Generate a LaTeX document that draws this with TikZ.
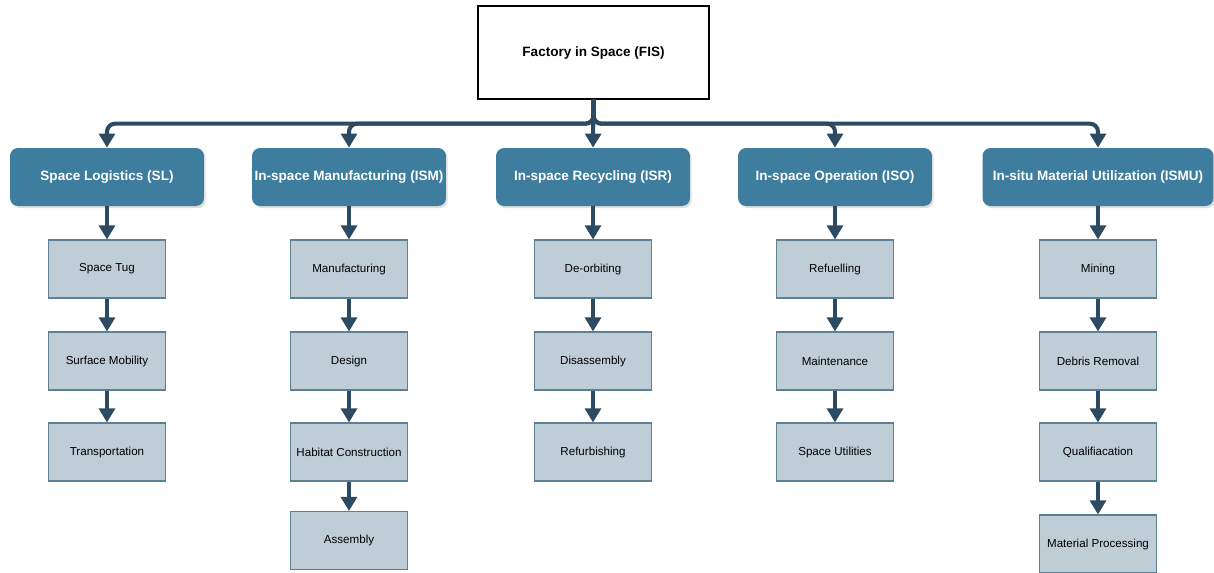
\documentclass[tikz,border=0pt]{standalone}
\usepackage{fontspec}
\setmainfont{Liberation Sans}
\usepackage{tikz}
\usetikzlibrary{shapes,arrows.meta,positioning,shadows}

\definecolor{catblue}{HTML}{3F7D9F}
\definecolor{taskfill}{HTML}{BFCDD6}
\definecolor{taskline}{HTML}{5F7F94}
\definecolor{linkblue}{HTML}{2C4B63}

\tikzset{
  root/.style={draw=black, line width=0.8pt, fill=white, minimum width=4.62cm, minimum height=1.86cm,
    font=\fontsize{7.7}{9}\selectfont\bfseries},
  cat/.style={draw=none, fill=catblue, rounded corners=0.16cm, minimum width=3.88cm, minimum height=1.16cm,
    inner xsep=1pt, text=white, font=\fontsize{7.7}{9}\selectfont\bfseries,
    drop shadow={opacity=0.25, shadow xshift=1pt, shadow yshift=-1.2pt}},
  task/.style={draw=taskline, line width=0.6pt, fill=taskfill, minimum width=2.34cm, minimum height=1.16cm,
    font=\fontsize{6.6}{8}\selectfont},
  link/.style={draw=linkblue, line width=2.3pt, -{Triangle[width=9pt,length=8pt]}},
  bus/.style={link, rounded corners=0.16cm}
}

\begin{document}
\begin{tikzpicture}[x=0.02cm, y=-0.02cm]
  \useasboundingbox (0,0) rectangle (1214,572);

  % top
  \node[root] (fis) at (593.5,52.5) {Factory in Space (FIS)};

  % categories
  \node[cat] (sl) at (107,177) {Space Logistics (SL)};
  \node[cat] (ism) at (349,177) {In-space Manufacturing (ISM)};
  \node[cat] (isr) at (593,177) {In-space Recycling (ISR)};
  \node[cat] (iso) at (835,177) {In-space Operation (ISO)};
  \node[cat, minimum width=4.62cm] (ismu) at (1098,177) {In-situ Material Utilization (ISMU)};

  \draw[bus] (fis.south) -- ++(0,24) -| (sl.north);
  \draw[bus] (fis.south) -- ++(0,24) -| (ism.north);
  \draw[link] (fis.south) -- (isr.north);
  \draw[bus] (fis.south) -- ++(0,24) -| (iso.north);
  \draw[bus] (fis.south) -- ++(0,24) -| (ismu.north);

  % SL
  \node[task] (sl1) at (107,269) {Space Tug};
  \node[task] (sl2) at (107,361) {Surface Mobility};
  \node[task] (sl3) at (107,452) {Transportation};
  \draw[link] (sl.south) -- (sl1.north);
  \draw[link] (sl1.south) -- (sl2.north);
  \draw[link] (sl2.south) -- (sl3.north);

  % ISM
  \node[task] (ism1) at (349,269) {Manufacturing};
  \node[task] (ism2) at (349,361) {Design};
  \node[task] (ism3) at (349,452) {Habitat Construction};
  \node[task] (ism4) at (349,540.5) {Assembly};
  \draw[link] (ism.south) -- (ism1.north);
  \draw[link] (ism1.south) -- (ism2.north);
  \draw[link] (ism2.south) -- (ism3.north);
  \draw[link] (ism3.south) -- (ism4.north);

  % ISR
  \node[task] (isr1) at (593,269) {De-orbiting};
  \node[task] (isr2) at (593,361) {Disassembly};
  \node[task] (isr3) at (593,452) {Refurbishing};
  \draw[link] (isr.south) -- (isr1.north);
  \draw[link] (isr1.south) -- (isr2.north);
  \draw[link] (isr2.south) -- (isr3.north);

  % ISO
  \node[task] (iso1) at (835,269) {Refuelling};
  \node[task] (iso2) at (835,361) {Maintenance};
  \node[task] (iso3) at (835,452) {Space Utilities};
  \draw[link] (iso.south) -- (iso1.north);
  \draw[link] (iso1.south) -- (iso2.north);
  \draw[link] (iso2.south) -- (iso3.north);

  % ISMU
  \node[task] (ismu1) at (1098,269) {Mining};
  \node[task] (ismu2) at (1098,361) {Debris Removal};
  \node[task] (ismu3) at (1098,452) {Qualifiacation};
  \node[task] (ismu4) at (1098,544) {Material Processing};
  \draw[link] (ismu.south) -- (ismu1.north);
  \draw[link] (ismu1.south) -- (ismu2.north);
  \draw[link] (ismu2.south) -- (ismu3.north);
  \draw[link] (ismu3.south) -- (ismu4.north);
\end{tikzpicture}
\end{document}
